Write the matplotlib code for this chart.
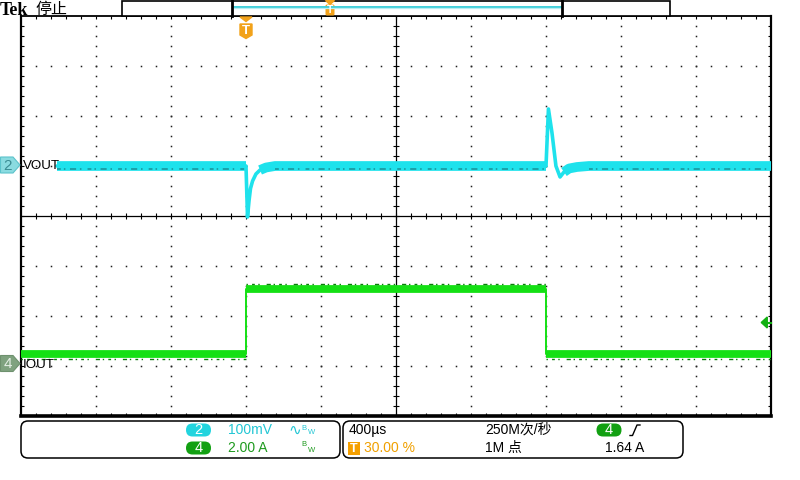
import numpy as np
import matplotlib
matplotlib.use("Agg")
import matplotlib.pyplot as plt
from matplotlib.patches import Polygon, FancyBboxPatch, Rectangle
from matplotlib.collections import LineCollection
from matplotlib.transforms import blended_transform_factory

plt.rcParams['font.family'] = ['Liberation Sans', 'Noto Sans CJK SC', 'DejaVu Sans']

# ---------------- data ----------------
time_per_div_us = 400
t_start_us, t_end_us = -1200, 2800
vout_scale_mv = 100          # mV / div
iout_scale_a = 2.0           # A / div
vout_offset_div = 1.0
iout_offset_div = -2.95
trigger_level_a = 1.64

vout_t_us = [-1008, 0, 8, 16, 24, 35, 53, 75, 107, 155,
             1600, 1613, 1632, 1653, 1675, 1696, 1723, 1765, 1829, 2800]
vout_mv = [0, 0, -102, -70, -45, -30, -16, -8, -3, 0,
           0, 114, 66, 0, -22, -12, -5, -2, 0, 0]

iout_t_us = [-1200, 0, 0, 1600, 1600, 2800]
iout_a = [0.4, 0.4, 3.0, 3.0, 0.4, 0.4]

ch2_label, ch4_label = "VOUT", "IOUT"
ch2_scale_txt, ch4_scale_txt = "100mV", "2.00 A"
timebase_txt, trig_pos_txt = "400µs", "30.00 %"
rate_txt, points_txt = "250M次/秒", "1M 点"
trig_level_txt = "1.64 A"

CYAN = '#1EE2EC'
CYAN_D = '#1B8F98'
GREEN = '#14E014'
GREEN_D = '#0B7D0B'
ORANGE = '#F2A21A'

fig = plt.figure(figsize=(8, 4.8), dpi=100)
ax = fig.add_axes([21/800, 64/480, 750/800, 400/480])
ax.set_xlim(t_start_us, t_end_us)
ax.set_ylim(-4, 4)
ax.set_xticks([]); ax.set_yticks([])
for side, lw in [('left', 1.6), ('right', 1.6), ('top', 1.3), ('bottom', 2.6)]:
    ax.spines[side].set_linewidth(lw)
    ax.spines[side].set_color('black')

# ---- graticule ----
t_center = (t_start_us + t_end_us) / 2
minor_dx = time_per_div_us / 5
xs_major = t_start_us + time_per_div_us * np.arange(1, 10)
minor_y = np.arange(-4, 4.001, 0.2)
minor_x = t_start_us + minor_dx * np.arange(0, 51)
dots_x, dots_y = [], []
for xm in xs_major:
    if abs(xm - t_center) < 1e-6:
        continue
    dots_x += [xm] * (len(minor_y) - 2)
    dots_y += list(minor_y[1:-1])
for ym in range(-3, 4):
    if ym == 0:
        continue
    dots_x += list(minor_x[1:-1])
    dots_y += [ym] * (len(minor_x) - 2)
ax.plot(dots_x, dots_y, ls='none', marker='s', ms=1.1, mew=0, color='#202020', zorder=1)

ax.axhline(0, color='black', lw=0.9, zorder=1)
ax.axvline(t_center, color='black', lw=0.9, zorder=1)
hx = 3 / 75 * time_per_div_us   # 3 px in time units
hy = 3 / 50                     # 3 px in div units
segs = []
for x in minor_x[1:-1]:
    segs.append([(x, -hy), (x, hy)])
    segs.append([(x, 4), (x, 4 - hy)])
    segs.append([(x, -4), (x, -4 + hy)])
for y in minor_y[1:-1]:
    segs.append([(t_center - hx, y), (t_center + hx, y)])
    segs.append([(t_start_us, y), (t_start_us + hx, y)])
    segs.append([(t_end_us, y), (t_end_us - hx, y)])
ax.add_collection(LineCollection(segs, colors='black', linewidths=0.8, zorder=1))

# ---- VOUT (ch2) ----
vt = np.array(vout_t_us, dtype=float)
vv = np.array(vout_mv, dtype=float)
vy = vout_offset_div + vv / vout_scale_mv
ax.plot(vt, vy, color=CYAN, lw=2.6, solid_joinstyle='round', solid_capstyle='round', zorder=3)
vy_band = np.where(np.abs(vv) <= 12, vy, np.nan)
ax.plot(vt, vy_band, color=CYAN, lw=7.0, solid_joinstyle='round', solid_capstyle='butt', zorder=3)
vy_flat = np.where(np.abs(vv) <= 0.5, vy - 0.06, np.nan)
ax.plot(vt, vy_flat, color=CYAN_D, lw=1.1, dashes=(2.5, 2, 1, 3, 4, 2.5, 1, 4), zorder=4)

# ---- IOUT (ch4) ----
it = np.array(iout_t_us, dtype=float)
ia = np.array(iout_a, dtype=float)
iy = iout_offset_div + ia / iout_scale_a
ax.plot(it, iy, color=GREEN, lw=1.4, zorder=3)
for i in range(len(it) - 1):
    if ia[i] == ia[i + 1]:
        ax.plot(it[i:i+2], iy[i:i+2], color=GREEN, lw=5.6, solid_capstyle='butt', zorder=3)
        edge = -0.1 if ia[i] < 1 else 0.09
        ax.plot(it[i:i+2], iy[i:i+2] + edge, color=GREEN_D, lw=1.0,
                dashes=(1, 3, 2, 2.5, 1, 5, 3, 2), zorder=4)

# trigger level arrow (right edge)
btr = blended_transform_factory(ax.transAxes, ax.transData)
ty = iout_offset_div + trigger_level_a / iout_scale_a
ax.add_patch(Polygon([(0.987, ty), (0.995, ty + 0.11), (0.995, ty - 0.11)],
                     closed=True, transform=btr, color='#12B012', zorder=5, clip_on=False))
ax.plot([0.99, 1.0], [ty, ty], transform=btr, color='#12B012', lw=1.5, zorder=5, clip_on=False)

# pixel rows of channel grounds
py2 = 216 - vout_offset_div * 50
py4 = 216 - iout_offset_div * 50

# ---------------- overlay (pixel coords) ----------------
ov = fig.add_axes([0, 0, 1, 1], zorder=5)
ov.set_xlim(0, 800); ov.set_ylim(480, 0)
ov.axis('off'); ov.patch.set_alpha(0)

ov.text(23, py2, ch2_label, fontsize=9.6, va='center', ha='left', color='black')
ov.text(23, py4 + 1, ch4_label, fontsize=9.6, va='center', ha='left', color='black')

def marker(y, fc, ec, txt, tc):
    ov.add_patch(Polygon([(0.5, y - 8), (13, y - 8), (20, y), (13, y + 8), (0.5, y + 8)],
                         closed=True, fc=fc, ec=ec, lw=0.8))
    ov.text(8, y + 0.5, txt, fontsize=11, ha='center', va='center', color=tc)
marker(py2 - 1, '#8ADBE0', '#5CC3CB', '2', '#3B8C93')
marker(py4, '#7FA27F', '#6E916E', '4', '#E4EEE4')

# header
ov.text(0, 15, 'Tek', family='Liberation Serif', weight='bold', fontsize=13,
        va='baseline', ha='left', color='black')
ov.text(35, 9, '停止', family=['Noto Sans CJK SC', 'DejaVu Sans'], fontsize=11.5,
        va='center', ha='left', color='black')
ov.add_patch(Rectangle((121.5, 0.5), 548.5, 15, fc='white', ec='black', lw=1.2))
ov.plot([233, 561], [7, 7], color='#3FCFDA', lw=1.4)
ov.plot([233, 561], [8.3, 8.3], color='#B6EEF2', lw=0.9)
ov.plot([232, 232], [0.5, 15.5], color='black', lw=2.0)
ov.plot([562, 562], [0.5, 15.5], color='black', lw=2.0)
ov.add_patch(Polygon([(325.5, 0.5), (334.5, 0.5), (330, 4.5)], closed=True, color=ORANGE))
ov.add_patch(FancyBboxPatch((325.5, 4.5), 9, 11, boxstyle='round,pad=0,rounding_size=1.5',
                            fc=ORANGE, ec='none'))
ov.text(330, 10.3, 'T', fontsize=7.5, weight='bold', color='white', ha='center', va='center')

# trigger position marker
ov.add_patch(Polygon([(240, 17), (252, 17), (246, 21.5)], closed=True, color=ORANGE))
ov.add_patch(Polygon([(240, 24), (252, 24), (252, 35), (246, 38.5), (240, 35)],
                     closed=True, color=ORANGE))
ov.text(246, 30.5, 'T', fontsize=9.5, weight='bold', color='white', ha='center', va='center')

# bottom panels
for x0, x1 in [(21, 340), (343, 683)]:
    ov.add_patch(FancyBboxPatch((x0, 421), x1 - x0, 37,
                                boxstyle='round,pad=0,rounding_size=7',
                                fc='white', ec='black', lw=1.1))

def pill(cx, cy, fc, txt):
    ov.add_patch(FancyBboxPatch((cx - 12.5, cy - 6.5), 25, 13,
                                boxstyle='round,pad=0,rounding_size=6.5', fc=fc, ec='none'))
    ov.text(cx, cy + 0.5, txt, fontsize=10.5, color='white', ha='center', va='center')

r1, r2 = 430, 448
pill(198.5, r1, '#22D4DE', '2')
ov.text(228, r1, ch2_scale_txt, fontsize=10, color='#22C6D4', va='center', ha='left')
ov.text(288, r1, '∿', family='DejaVu Sans', fontsize=11, color='#22C6D4', va='center', ha='left')
ov.text(301.5, r1 - 2, 'B', fontsize=5.5, color='#22C6D4', va='center', ha='left')
ov.text(307.5, r1 + 3, 'W', fontsize=5.5, color='#22C6D4', va='center', ha='left')
pill(198.5, r2, '#12A012', '4')
ov.text(228, r2, ch4_scale_txt, fontsize=10, color='#1E9A1E', va='center', ha='left')
ov.text(301.5, r2 - 3, 'B', fontsize=5.5, color='#1E9A1E', va='center', ha='left')
ov.text(307.5, r2 + 2, 'W', fontsize=5.5, color='#1E9A1E', va='center', ha='left')

ov.text(349, r1, timebase_txt, fontsize=10, color='black', va='center', ha='left')
ov.add_patch(Rectangle((348, 441.5), 12, 13, fc='#F5A000', ec='none'))
ov.text(354, r2 + 0.5, 'T', fontsize=9, weight='bold', color='white', ha='center', va='center')
ov.text(364, r2, trig_pos_txt, fontsize=10, color='#F0A000', va='center', ha='left')
ov.text(485, r1, rate_txt, fontsize=10, color='black', va='center', ha='left')
ov.text(485, r2, points_txt, fontsize=10, color='black', va='center', ha='left')
pill(609, r1, '#12A012', '4')
ov.plot([630, 632.5, 637, 640], [435.5, 435.5, 425, 425], color='black', lw=1.0)
ov.text(605, r2, trig_level_txt, fontsize=10, color='black', va='center', ha='left')

fig.savefig('out.png', dpi=100)
